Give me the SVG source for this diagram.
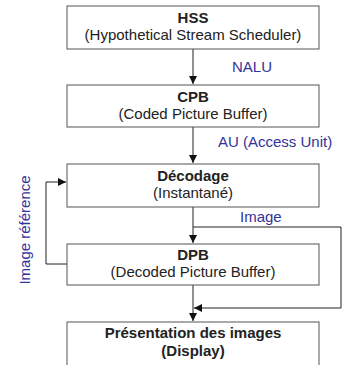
<svg xmlns="http://www.w3.org/2000/svg" width="342" height="365" viewBox="0 0 342 365">
<style>
.box{fill:#fff;stroke:#555;stroke-width:1}
.t{font-family:"Liberation Sans",Arial,sans-serif;font-size:15px;fill:#222;text-anchor:middle}
.b{font-weight:bold}
.lbl{font-family:"Liberation Sans",Arial,sans-serif;font-size:15px;fill:#333399}
.c{fill:none;stroke:#222;stroke-width:1}
</style>
<defs>
<marker id="ah" viewBox="0 0 10 10" refX="10" refY="5" markerWidth="8" markerHeight="8" markerUnits="userSpaceOnUse" orient="auto">
<path d="M0,0 L10,5 L0,10 z" fill="#111"/>
</marker>
</defs>
<rect width="342" height="365" fill="#fff"/>
<g id="connectors">
<line class="c" x1="193" y1="49" x2="193" y2="84" marker-end="url(#ah)"/>
<line class="c" x1="193" y1="127" x2="193" y2="163" marker-end="url(#ah)"/>
<line class="c" x1="193" y1="207" x2="193" y2="243" marker-end="url(#ah)"/>
<line class="c" x1="193" y1="285" x2="193" y2="321" marker-end="url(#ah)"/>
<polyline class="c" points="193,227 341,227 341,308 194,308" marker-end="url(#ah)"/>
<polyline class="c" points="67,264 46,264 46,182 66,182" marker-end="url(#ah)"/>
<text class="lbl" x="232" y="72">NALU</text>
<text class="lbl" x="218" y="147">AU (Access Unit)</text>
<text class="lbl" x="240" y="222">Image</text>
<text class="lbl" transform="translate(30,230) rotate(-90)" text-anchor="middle">Image référence</text>
</g>
<g id="hss">
<rect class="box" x="67" y="6" width="252" height="43"/>
<text class="t b" x="193" y="23">HSS</text>
<text class="t" x="193" y="40">(Hypothetical Stream Scheduler)</text>
</g>
<g id="cpb">
<rect class="box" x="67" y="85" width="252" height="42"/>
<text class="t b" x="193" y="102">CPB</text>
<text class="t" x="193" y="119">(Coded Picture Buffer)</text>
</g>
<g id="decodage">
<rect class="box" x="67" y="164" width="252" height="43"/>
<text class="t b" x="193" y="181">Décodage</text>
<text class="t" x="193" y="198">(Instantané)</text>
</g>
<g id="dpb">
<rect class="box" x="67" y="244" width="252" height="41"/>
<text class="t b" x="193" y="260">DPB</text>
<text class="t" x="193" y="277">(Decoded Picture Buffer)</text>
</g>
<g id="presentation">
<rect class="box" x="67" y="322" width="252" height="50"/>
<text class="t b" x="193" y="338">Présentation des images</text>
<text class="t b" x="193" y="356">(Display)</text>
</g>
</svg>
